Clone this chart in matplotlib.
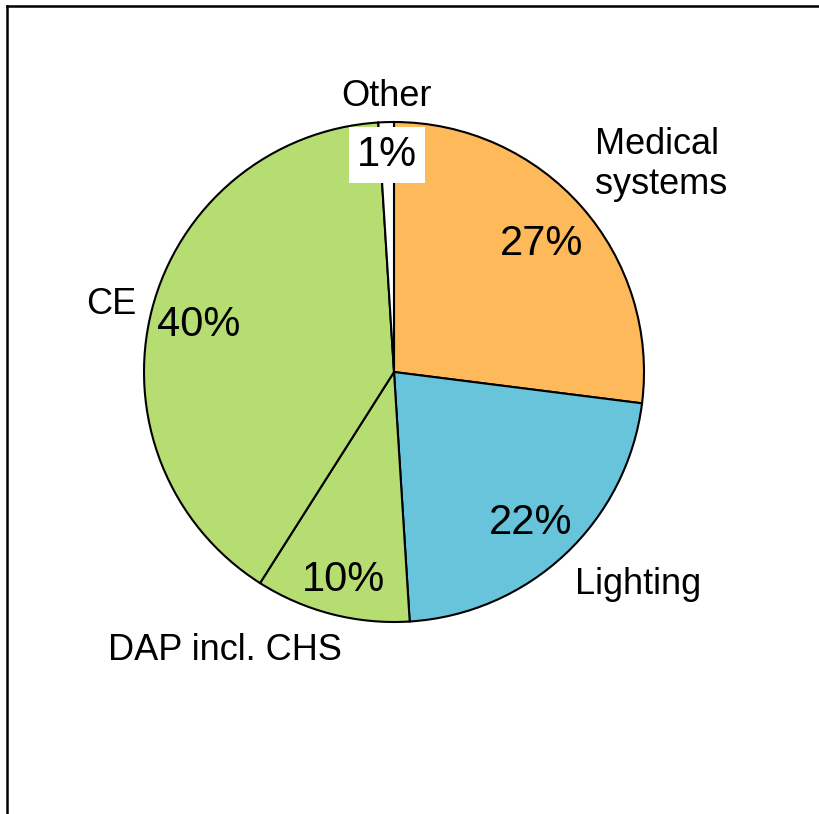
import matplotlib
matplotlib.use("Agg")
import matplotlib.pyplot as plt
from matplotlib.lines import Line2D

plt.rcParams['font.family'] = ['Liberation Sans', 'DejaVu Sans']

# data
segments = ['Medical\nsystems', 'Lighting', 'DAP incl. CHS', 'CE', 'Other']
shares = [27, 22, 10, 40, 1]
colors = ['#FDB95A', '#68C4DB', '#B6DD72', '#B6DD72', '#FFFFFF']

# label placement in pie-radius units (text only)
name_pos = [(0.804, 0.83), (0.976, -0.852), (-0.676, -1.112), (-1.132, 0.27), (-0.032, 1.102)]
name_ha = ['left', 'center', 'center', 'center', 'center']
pct_pos = [(0.592, 0.512), (0.548, -0.604), (-0.204, -0.832), (-0.78, 0.188), (-0.028, 0.868)]

W, H = 819, 814
cx, cy, R = 394, 372, 250

fig = plt.figure(figsize=(W / 100, H / 100), dpi=100)
ax = fig.add_axes([0, 0, 1, 1])

wedges, texts, autotexts = ax.pie(
    shares, labels=segments, colors=colors, startangle=90, counterclock=False,
    autopct='%1.0f%%', wedgeprops=dict(edgecolor='black', linewidth=1.5),
    textprops=dict(fontsize=26, color='black'))

for t, p, ha in zip(texts, name_pos, name_ha):
    t.set_position(p)
    t.set_ha(ha)
    t.set_va('center')
    t.set_fontsize(26)

for t, p in zip(autotexts, pct_pos):
    t.set_position(p)
    t.set_ha('center')
    t.set_va('center')
    t.set_fontsize(30)
autotexts[-1].set_bbox(dict(facecolor='white', edgecolor='none', boxstyle='square,pad=0.2'))

ax.set_xlim(-cx / R, (W - cx) / R)
ax.set_ylim(-(H - cy) / R, cy / R)
ax.set_aspect('equal')
ax.axis('off')

# outer frame (runs off the right and bottom edges)
fx, fy = 7 / W, 1 - 6 / H
fig.add_artist(Line2D([fx, fx], [-0.01, fy], transform=fig.transFigure, color='black', lw=1.8))
fig.add_artist(Line2D([fx, 1.01], [fy, fy], transform=fig.transFigure, color='black', lw=1.8))

fig.savefig('out.png', dpi=100, facecolor='white')
